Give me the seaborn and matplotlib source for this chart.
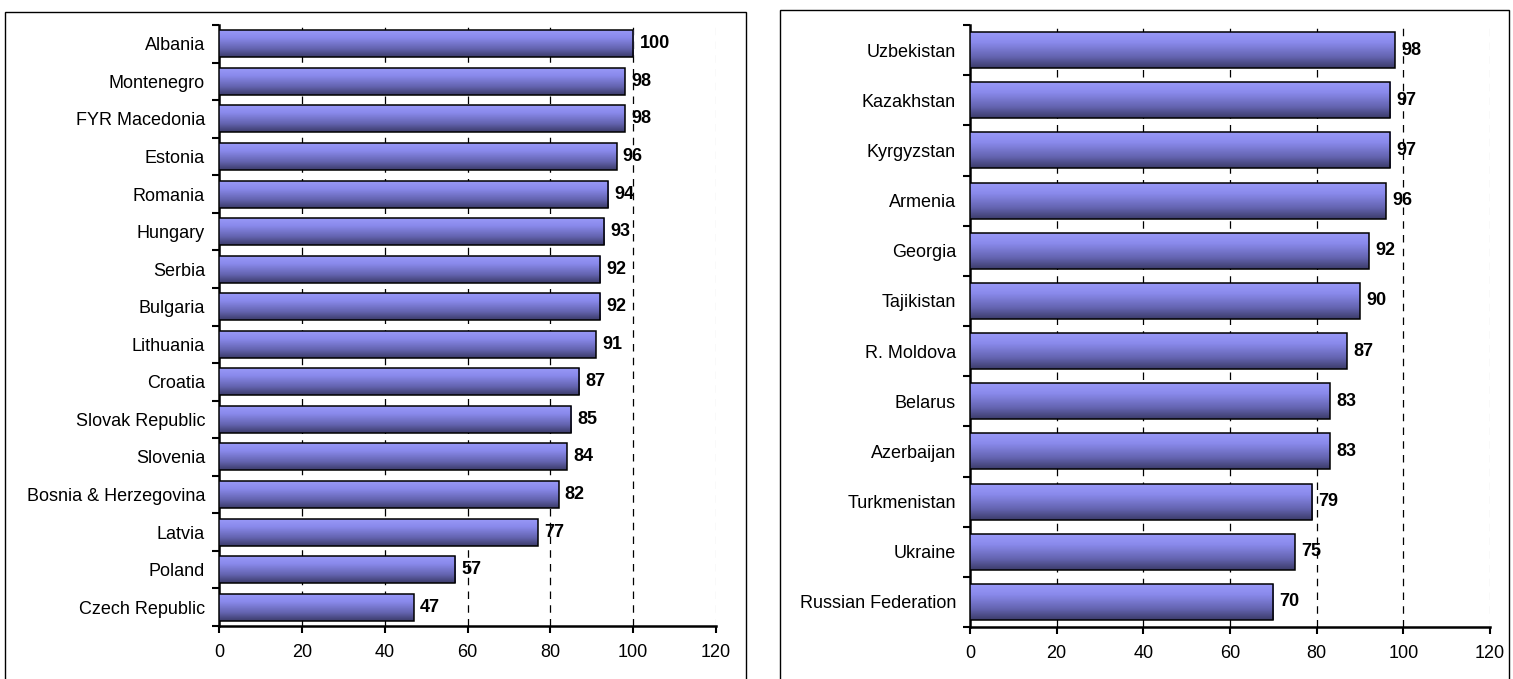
import numpy as np
import pandas as pd
import matplotlib
matplotlib.use("Agg")
import matplotlib.pyplot as plt
from matplotlib.colors import LinearSegmentedColormap
from matplotlib.patches import Rectangle
import seaborn as sns

sns.set_theme(style="white")
plt.rcParams["font.family"] = ["Liberation Sans", "DejaVu Sans"]

left_countries = ["Albania", "Montenegro", "FYR Macedonia", "Estonia", "Romania",
                  "Hungary", "Serbia", "Bulgaria", "Lithuania", "Croatia",
                  "Slovak Republic", "Slovenia", "Bosnia & Herzegovina", "Latvia",
                  "Poland", "Czech Republic"]
left_values = [100, 98, 98, 96, 94, 93, 92, 92, 91, 87, 85, 84, 82, 77, 57, 47]

right_countries = ["Uzbekistan", "Kazakhstan", "Kyrgyzstan", "Armenia", "Georgia",
                   "Tajikistan", "R. Moldova", "Belarus", "Azerbaijan",
                   "Turkmenistan", "Ukraine", "Russian Federation"]
right_values = [98, 97, 97, 96, 92, 90, 87, 83, 83, 79, 75, 70]

x_ticks = [0, 20, 40, 60, 80, 100, 120]

# vertical gradient used to fill each bar: light at the top, dark at the bottom
bar_cmap = LinearSegmentedColormap.from_list(
    "bar_grad", [(0.0, "#9a9af8"), (0.3, "#8a8aec"), (0.7, "#6464b0"), (1.0, "#3c3c6a")])
grad = np.linspace(0, 1, 64).reshape(-1, 1)

W, H = 1513, 679
FS = 13
fig = plt.figure(figsize=(W / 100, H / 100), dpi=100)

# panel frames
fig.patches.append(Rectangle((5 / W, -0.01), (746 - 5) / W, 1 - 12 / H + 0.01,
                             transform=fig.transFigure, fill=False,
                             edgecolor="black", lw=1.0, zorder=0))
fig.patches.append(Rectangle((780 / W, -0.01), (1509 - 780) / W, 1 - 10 / H + 0.01,
                             transform=fig.transFigure, fill=False,
                             edgecolor="black", lw=1.0, zorder=0))


def draw_panel(rect, countries, values):
    ax = fig.add_axes(rect)
    df = pd.DataFrame({"country": countries, "value": values})
    sns.barplot(data=df, x="value", y="country", orient="h", color="#8080e0",
                width=0.72, ax=ax, zorder=3)
    n = len(countries)
    ax.set_xlim(0, 120)
    ax.set_ylim(n - 0.5, -0.5)

    # dashed value grid
    for v in x_ticks[1:]:
        col = "#d0d0d0" if v == 120 else "black"
        ax.axvline(v, color=col, lw=0.9, ls=(0, (6, 5)), zorder=1)

    for patch, v in zip(ax.patches, values):
        x0, y0 = patch.get_x(), patch.get_y()
        w, h = patch.get_width(), patch.get_height()
        im = ax.imshow(grad, cmap=bar_cmap, aspect="auto",
                       extent=(x0, x0 + w, y0 + h, y0), origin="upper",
                       interpolation="bilinear", zorder=3)
        im.set_clip_path(patch)
        patch.set_facecolor("none")
        patch.set_edgecolor("black")
        patch.set_linewidth(1.1)
        patch.set_zorder(4)
        ax.annotate(f"{v}", (v, y0 + h / 2), xytext=(4.5, 0),
                    textcoords="offset points", ha="left", va="center",
                    fontsize=FS, fontweight="bold", color="black", zorder=5)

    ax.set_ylim(n - 0.5, -0.5)
    ax.set_xlim(0, 120)
    ax.set_xticks(x_ticks)
    ax.set_xticklabels([str(t) for t in x_ticks], fontsize=FS)
    ax.set_yticks(np.arange(n + 1) - 0.5)
    ax.set_yticklabels([""] * (n + 1))
    ax.set_yticks(np.arange(n), minor=True)
    ax.set_yticklabels(countries, minor=True, fontsize=FS)
    ax.tick_params(axis="y", which="major", direction="out", length=5, width=1.5,
                   color="black", left=True)
    ax.tick_params(axis="y", which="minor", length=0, pad=10, colors="black", left=True)
    ax.tick_params(axis="x", direction="out", length=5, width=1.5, color="black",
                   pad=8, bottom=True, labelcolor="black")
    ax.set_xlabel("")
    ax.set_ylabel("")
    for s in ("top", "right"):
        ax.spines[s].set_visible(False)
    for s in ("left", "bottom"):
        ax.spines[s].set_color("black")
        ax.spines[s].set_linewidth(1.8)
    ax.patch.set_alpha(0)
    return ax


draw_panel([219 / W, 1 - 626 / H, (716 - 219) / W, (626 - 25) / H],
           left_countries, left_values)
draw_panel([970 / W, 1 - 627 / H, (1490 - 970) / W, (627 - 25) / H],
           right_countries, right_values)

fig.savefig("out.png", dpi=100)
